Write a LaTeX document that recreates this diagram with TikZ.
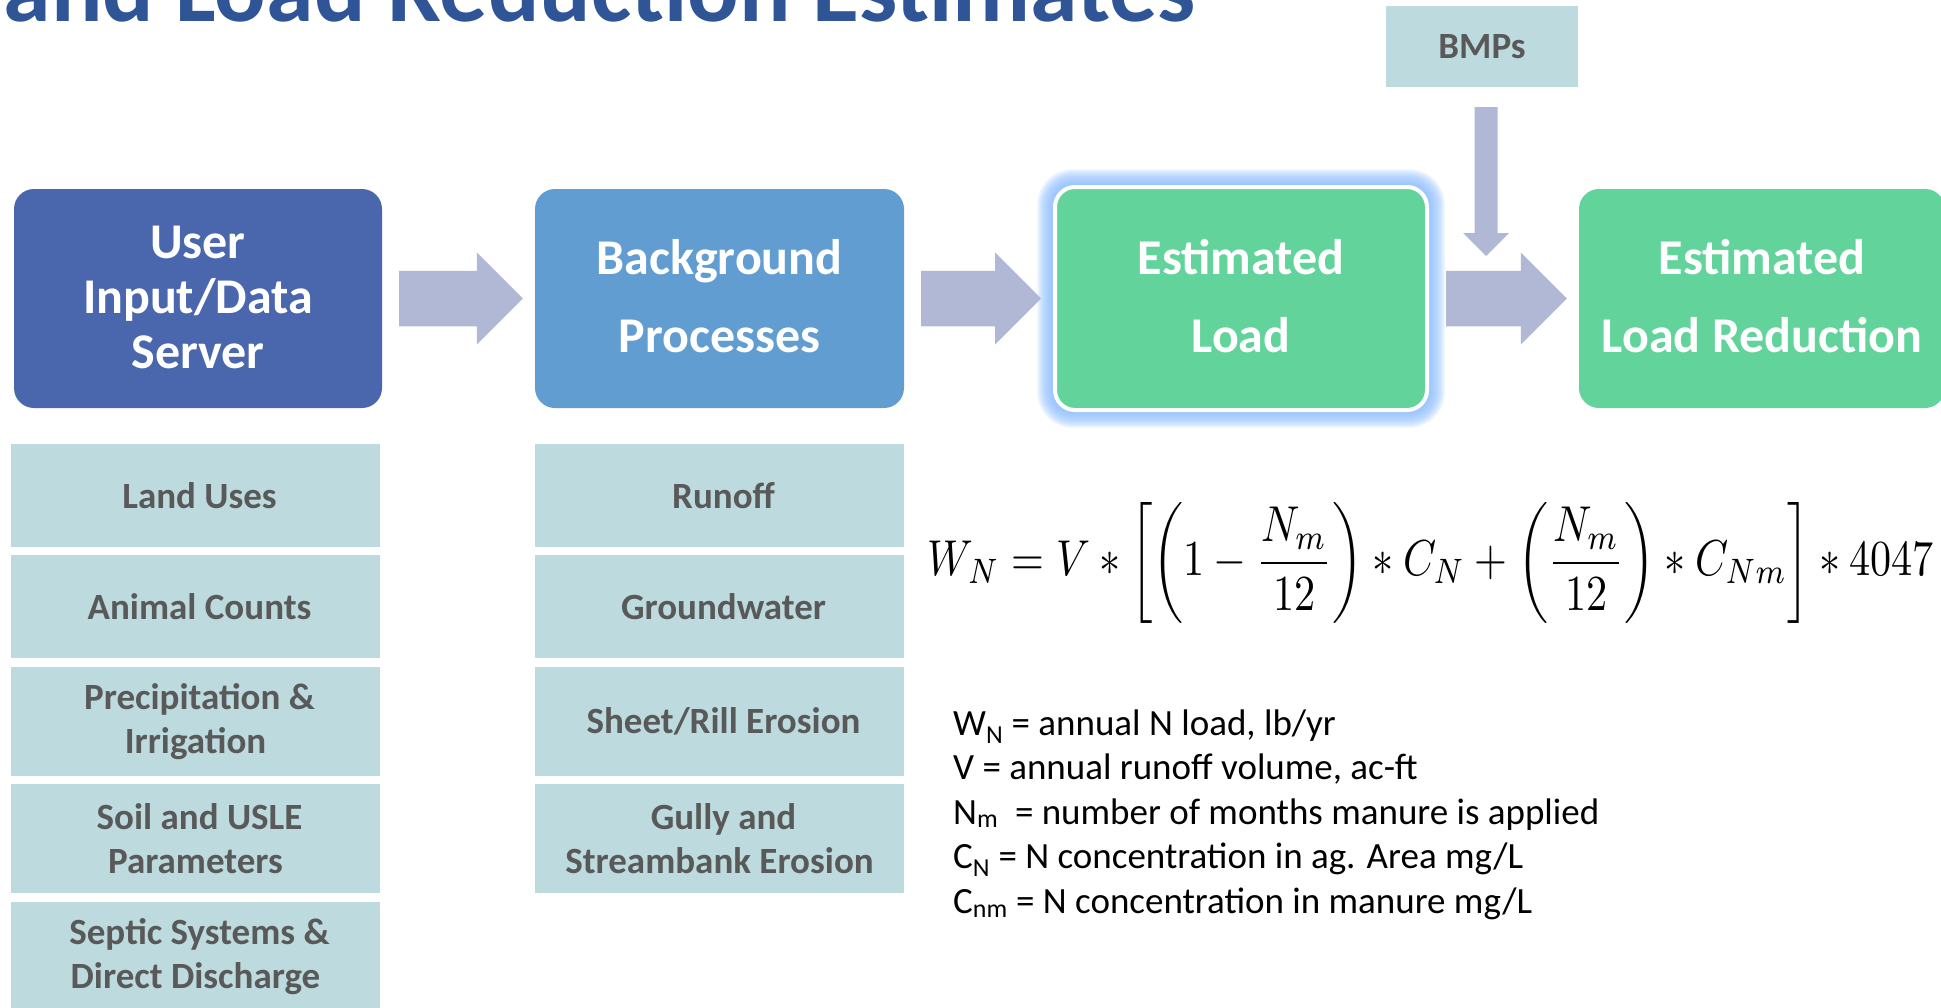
\documentclass[tikz,border=0pt]{standalone}
\usepackage{fontspec}
\setmainfont{Carlito}
\usepackage{graphicx}
\usetikzlibrary{calc,backgrounds}

\definecolor{userblue}{HTML}{4A66AC}
\definecolor{bgblue}{HTML}{629DD1}
\definecolor{loadgreen}{HTML}{62D49B}
\definecolor{paleteal}{HTML}{BDDBDE}
\definecolor{arrowgray}{HTML}{B0B8D5}
\definecolor{labelgray}{HTML}{595959}
\definecolor{titleblue}{HTML}{2F5597}
\definecolor{glowblue}{HTML}{8EC0FF}

% block arrow between two stage boxes
\newcommand{\flowarrow}[2]{%
  \fill[flowarrow]
    ($(#1.east)+(17,-27.75)$) -- ($(#2.west)+(-58,-27.75)$) --
    ($(#2.west)+(-58,-46)$) -- ($(#2.west)+(-12,0)$) --
    ($(#2.west)+(-58,46)$) -- ($(#2.west)+(-58,27.75)$) --
    ($(#1.east)+(17,27.75)$) -- cycle;}
% first lines of the list labels sit a little right of centre
\newcommand{\lead}{\hspace*{8pt}}
% extra depth on a last line raises the whole label a little
\newcommand{\lift}[1]{\rule[-#1]{0pt}{0pt}}

\begin{document}
\begin{tikzpicture}[x=1pt,y=-1pt,
  stage/.style={rounded corners=20pt, inner sep=0pt, align=center,
    text=white, font=\fontsize{50}{78}\selectfont\bfseries,
    minimum height=219pt},
  subbox/.style={fill=paleteal, inner sep=0pt, align=center,
    text=labelgray, font=\fontsize{37}{44.5}\selectfont\bfseries,
    minimum width=369pt},
  legend/.style={anchor=base west, inner sep=0pt, text=black,
    font=\fontsize{37}{44.5}\selectfont},
  flowarrow/.style={fill=arrowgray}]

\useasboundingbox (0,0) rectangle (1941,1007);
\clip (0,0) rectangle (1941,1007);

% heading
\node[anchor=base east, inner sep=0pt, text=titleblue,
      font=\fontsize{96}{110}\selectfont\bfseries] (title) at (1196,21)
  {and Load Reduction Estimates};

% stage boxes
\node[stage, fill=userblue, minimum width=368pt,
      font=\fontsize{50}{55}\selectfont\bfseries] (user) at (198,298.5)
  {User\\Input/Data\\Server\lift{3pt}};
\node[stage, fill=bgblue, minimum width=369pt] (bg) at (719.5,298.5)
  {Background\\Processes\lift{5pt}};
\node[stage, fill=loadgreen, draw=white, line width=4pt,
      minimum width=372pt, minimum height=223pt] (load) at (1241,298.5)
  {Estimated\\Load\lift{5pt}};
\node[stage, fill=loadgreen, minimum width=366pt] (reduction) at (1762,298.5)
  {Estimated\\Load Reduction\lift{5pt}};

% white page and soft glow round the highlighted stage
\begin{scope}[on background layer]
  \fill[white] (0,0) rectangle (1941,1007);
  \foreach \d [evaluate=\d as \r using 20+\d] in {1,...,16}
    \fill[glowblue, fill opacity=0.1, rounded corners=\r pt]
      ($(load.north west)+(-\d,-\d)$) rectangle ($(load.south east)+(\d,\d)$);
\end{scope}

% BMPs input
\node[subbox, minimum width=192pt, minimum height=81pt] (bmps) at (1482,46.5) {BMPs};

% flow arrows
\flowarrow{user}{bg}
\flowarrow{bg}{load}
\flowarrow{load}{reduction}

\coordinate (bmptip) at (1486,256);
\fill[flowarrow]
  ($(bmps.south -| bmptip)+(-11.5,20)$) -- ($(bmptip)+(-11.5,-23)$) --
  ($(bmptip)+(-23,-23)$) -- (bmptip) -- ($(bmptip)+(23,-23)$) --
  ($(bmptip)+(11.5,-23)$) -- ($(bmps.south -| bmptip)+(11.5,20)$) -- cycle;

% input data
\node[subbox, minimum height=103pt] (landuse) at (195.5,495.5) {\lead Land Uses};
\node[subbox, minimum height=103pt] (animals) at (195.5,606.5) {\lead Animal Counts};
\node[subbox, minimum height=109pt] (precip) at (195.5,721.5) {\lead Precipitation \&\\Irrigation};
\node[subbox, minimum height=109pt] (soil) at (195.5,838.5) {\lead Soil and USLE\\Parameters};
\node[subbox, minimum height=109pt] (septic) at (195.5,956.5) {\lead Septic Systems \&\\Direct Discharge};

% background processes
\node[subbox, minimum height=103pt] (runoff) at (719.5,495.5) {\lead Runoff};
\node[subbox, minimum height=103pt] (gw) at (719.5,606.5) {\lead Groundwater};
\node[subbox, minimum height=109pt] (sheet) at (719.5,721.5) {\lead Sheet/Rill Erosion};
\node[subbox, minimum height=109pt] (gully) at (719.5,838.5) {\lead Gully and\\Streambank Erosion};

% load equation
\node[inner sep=0pt] (formula) at (1431,563)
  {\resizebox*{1006pt}{121pt}{$\displaystyle W_N = V \ast \left[\left(1-\frac{N_m}{12}\right)\ast C_N+\left(\frac{N_m}{12}\right)\ast C_{Nm}\right]\ast 4047$}};

% symbol definitions
\node[legend] (def1) at (953,735) {W\textsubscript{N} = annual N load, lb/yr};
\node[legend] (def2) at (953,779.5) {V = annual runoff volume, ac-ft};
\node[legend] (def3) at (953,824) {N\textsubscript{m}\ \ = number of months manure is applied};
\node[legend] (def4) at (953,868.5) {C\textsubscript{N} = N concentration in ag. Area mg/L};
\node[legend] (def5) at (953,913) {C\textsubscript{nm} = N concentration in manure mg/L};

\end{tikzpicture}
\end{document}
